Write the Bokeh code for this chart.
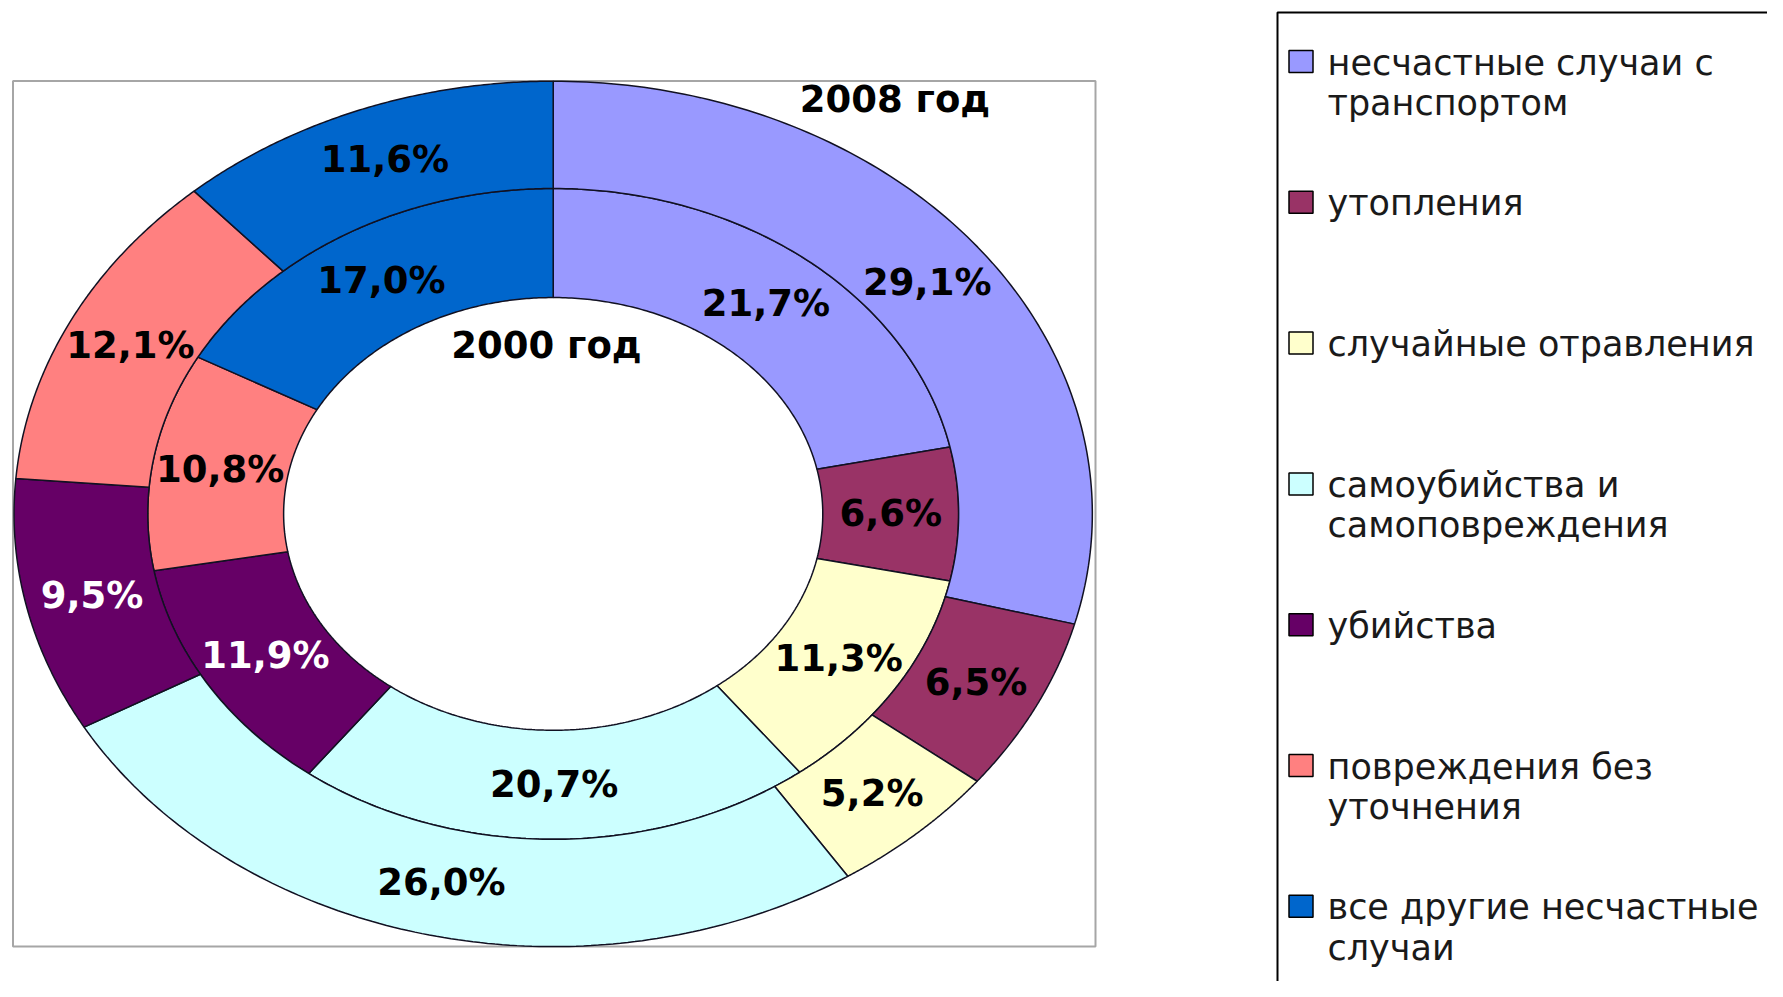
import numpy as np
from bokeh.plotting import figure
from bokeh.models import Range1d, ColumnDataSource
from bokeh.core.properties import value
from bokeh.embed import file_html
from bokeh.resources import INLINE

# ---- data ----
categories = [
    "несчастные случаи с\nтранспортом",
    "утопления",
    "случайные отравления",
    "самоубийства и\nсамоповреждения",
    "убийства",
    "повреждения без\nуточнения",
    "все другие несчастные\nслучаи",
]
values_2000 = [21.7, 6.6, 11.3, 20.7, 11.9, 10.8, 17.0]
values_2008 = [29.1, 6.5, 5.2, 26.0, 9.5, 12.1, 11.6]
colors = ["#9999FF", "#993366", "#FFFFCC", "#CCFFFF", "#660066", "#FF8080", "#0066CC"]
label_colors = ["black", "black", "black", "black", "white", "black", "black"]
series_names = ["2000 год", "2008 год"]

# ---- layout constants (page pixels) ----
W, H = 1767, 981
CX, CY = 552.7, 513.4
RY = 432.7
ASPECT = 1.246
R_HOLE, R_MID, R_OUT = 0.5, 0.752, 1.0

FONT = value("DejaVu Sans")

p = figure(width=W, height=H, x_range=Range1d(0, W), y_range=Range1d(H, 0),
           output_backend="svg", toolbar_location=None, min_border=0,
           x_axis_type=None, y_axis_type=None)
p.grid.visible = False
p.outline_line_color = None
p.background_fill_color = "white"
p.border_fill_color = "white"

# plot area frame
p.quad(left=[12.5], right=[1095], top=[80.5], bottom=[946], fill_color=None,
       line_color="#a6a6a6", line_width=2)


def ring(vals, r0, r1):
    xs, ys, lx, ly = [], [], [], []
    total = float(sum(vals))
    start = 0.0
    for v in vals:
        a0 = 2 * np.pi * start / total
        a1 = 2 * np.pi * (start + v) / total
        t = np.linspace(a0, a1, 120)
        xo = CX + r1 * RY * ASPECT * np.sin(t)
        yo = CY - r1 * RY * np.cos(t)
        ti = t[::-1]
        xi = CX + r0 * RY * ASPECT * np.sin(ti)
        yi = CY - r0 * RY * np.cos(ti)
        xs.append(list(np.concatenate([xo, xi])))
        ys.append(list(np.concatenate([yo, yi])))
        am = (a0 + a1) / 2
        rm = (r0 + r1) / 2
        lx.append(CX + rm * RY * ASPECT * np.sin(am))
        ly.append(CY - rm * RY * np.cos(am))
        start += v
    return xs, ys, lx, ly


def fmt(v):
    return f"{v:.1f}".replace(".", ",") + "%"


for vals, r0, r1 in [(values_2000, R_HOLE, R_MID), (values_2008, R_MID, R_OUT)]:
    xs, ys, lx, ly = ring(vals, r0, r1)
    src = ColumnDataSource(dict(xs=xs, ys=ys, color=colors))
    p.patches("xs", "ys", source=src, fill_color="color", line_color="#111122", line_width=1.5)
    lsrc = ColumnDataSource(dict(x=lx, y=ly, t=[fmt(v) for v in vals], c=label_colors))
    p.text("x", "y", text="t", source=lsrc, text_color="c", text_font=FONT,
           text_font_style="bold", text_font_size="37px", text_align="center",
           text_baseline="middle")

# series names
p.text(x=[546, 894.5], y=[345, 98.5], text=series_names, text_font=FONT,
       text_font_style="bold", text_font_size="37px", text_align="center",
       text_baseline="middle", text_color="black")

# legend
p.quad(left=[1277], right=[1850], top=[12], bottom=[1100], fill_color=None,
       line_color="black", line_width=2)
LEG_Y0, LEG_DY = 61.0, 140.8
my = [LEG_Y0 + LEG_DY * i for i in range(len(categories))]
p.rect(x=[1300.5] * len(categories), y=my, width=24, height=22, fill_color=colors,
       line_color="black", line_width=1.5)
tx, ty, tt = [], [], []
for i, lab in enumerate(categories):
    for j, line in enumerate(lab.split("\n")):
        tx.append(1327)
        ty.append(my[i] + 1 + 40.5 * j)
        tt.append(line)
p.text(x=tx, y=ty, text=tt, text_font=FONT, text_font_size="35px",
       text_align="left", text_baseline="alphabetic", text_color="#1a1a1a")

open("out.html", "w").write(file_html(p, INLINE))
